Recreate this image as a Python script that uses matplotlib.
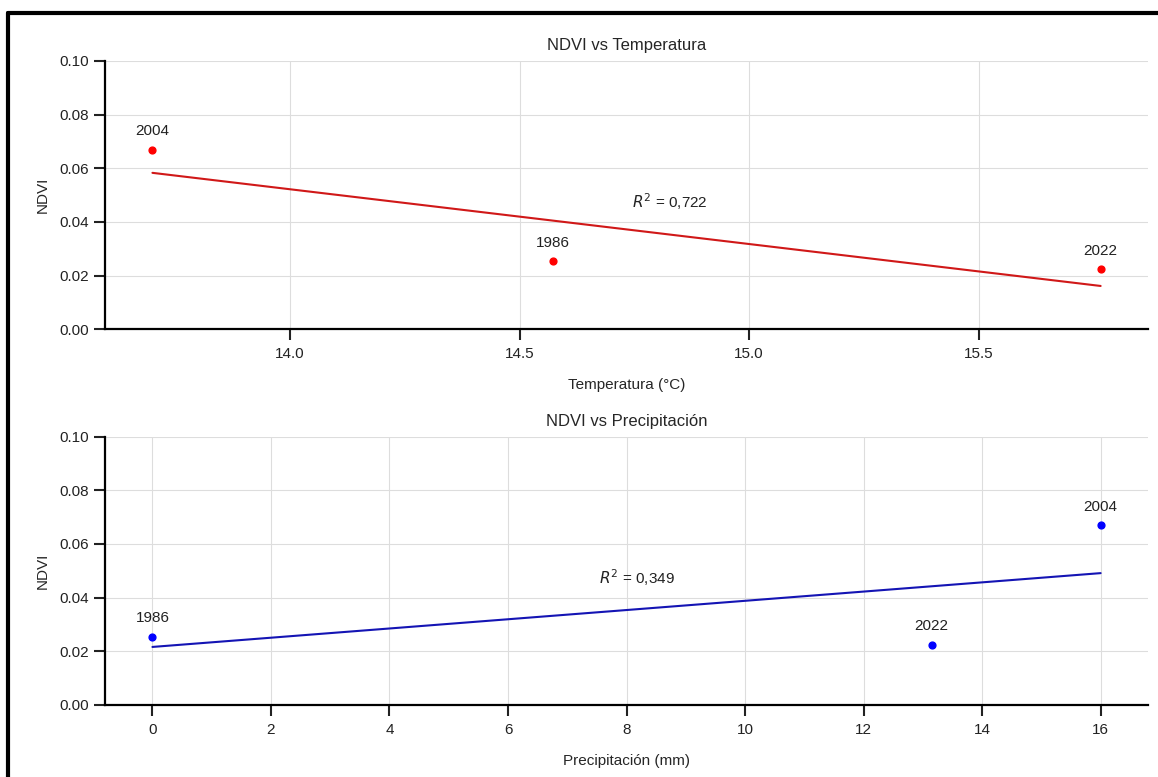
import numpy as np
import matplotlib.pyplot as plt
import seaborn as sns
from matplotlib.lines import Line2D

# values
years = ['1986', '2004', '2022']
temperatura = [14.572, 13.70, 15.766]
precipitacion = [0.0, 16.0, 13.15]
ndvi = [0.0255, 0.067, 0.0225]
r2_labels = ['0,722', '0,349']

sns.set_style('ticks')
plt.rcParams['font.family'] = ['Arial', 'Liberation Sans', 'DejaVu Sans']

fig, (ax1, ax2) = plt.subplots(2, 1, figsize=(11.58, 7.77), dpi=100)
fig.subplots_adjust(left=0.0907, right=0.9914, top=0.9215, bottom=0.0927, hspace=0.40)


def panel(ax, x, y, color, line_color, xlabel, title, r2_txt, r2_pos):
    x = np.array(x)
    y = np.array(y)
    ax.scatter(x, y, color=color, s=24, zorder=3)
    slope, intercept = np.polyfit(x, y, 1)
    xs = np.array([x.min(), x.max()])
    ax.plot(xs, slope * xs + intercept, color=line_color, lw=1.5, zorder=2)
    for xi, yi, yr in zip(x, y, years):
        ax.annotate(yr, (xi, yi), textcoords='offset points', xytext=(0, 8),
                    ha='center', va='bottom', fontsize=11, color='#222222')
    ax.text(r2_pos[0], r2_pos[1], '$R^2$ = ' + r2_txt,
            ha='center', va='center', fontsize=11, color='#222222')
    ax.set_ylim(0, 0.1)
    ax.set_yticks([0, 0.02, 0.04, 0.06, 0.08, 0.10])
    ax.set_yticklabels(['0.00', '0.02', '0.04', '0.06', '0.08', '0.10'])
    ax.grid(True, color='#dddddd', lw=0.8)
    ax.set_axisbelow(True)
    ax.set_xlabel(xlabel, fontsize=11, labelpad=12)
    ax.set_ylabel('NDVI', fontsize=11, labelpad=7)
    ax.set_title(title, fontsize=12, pad=8)
    ax.tick_params(labelsize=11, length=8, width=1.5, colors='#222222')
    ax.tick_params(axis='x', pad=5)
    for s in ['left', 'bottom']:
        ax.spines[s].set_linewidth(1.6)
        ax.spines[s].set_color('black')
    sns.despine(ax=ax)


panel(ax1, temperatura, ndvi, 'red', '#d01818', 'Temperatura (°C)',
      'NDVI vs Temperatura', r2_labels[0], (14.827, 0.0474))
ax1.set_xticks([14.0, 14.5, 15.0, 15.5])
panel(ax2, precipitacion, ndvi, 'blue', '#1414b4', 'Precipitación (mm)',
      'NDVI vs Precipitación', r2_labels[1], (8.18, 0.0474))
ax2.set_xticks(np.arange(0, 17, 2))

# screenshot frame (top and left edges only are visible)
fig.add_artist(Line2D([0.0072, 0.0072], [-0.05, 0.9835], transform=fig.transFigure, color='black', lw=3))
fig.add_artist(Line2D([0.0072, 1.05], [0.9835, 0.9835], transform=fig.transFigure, color='black', lw=3))

fig.savefig('out.png', dpi=100, facecolor='white')
